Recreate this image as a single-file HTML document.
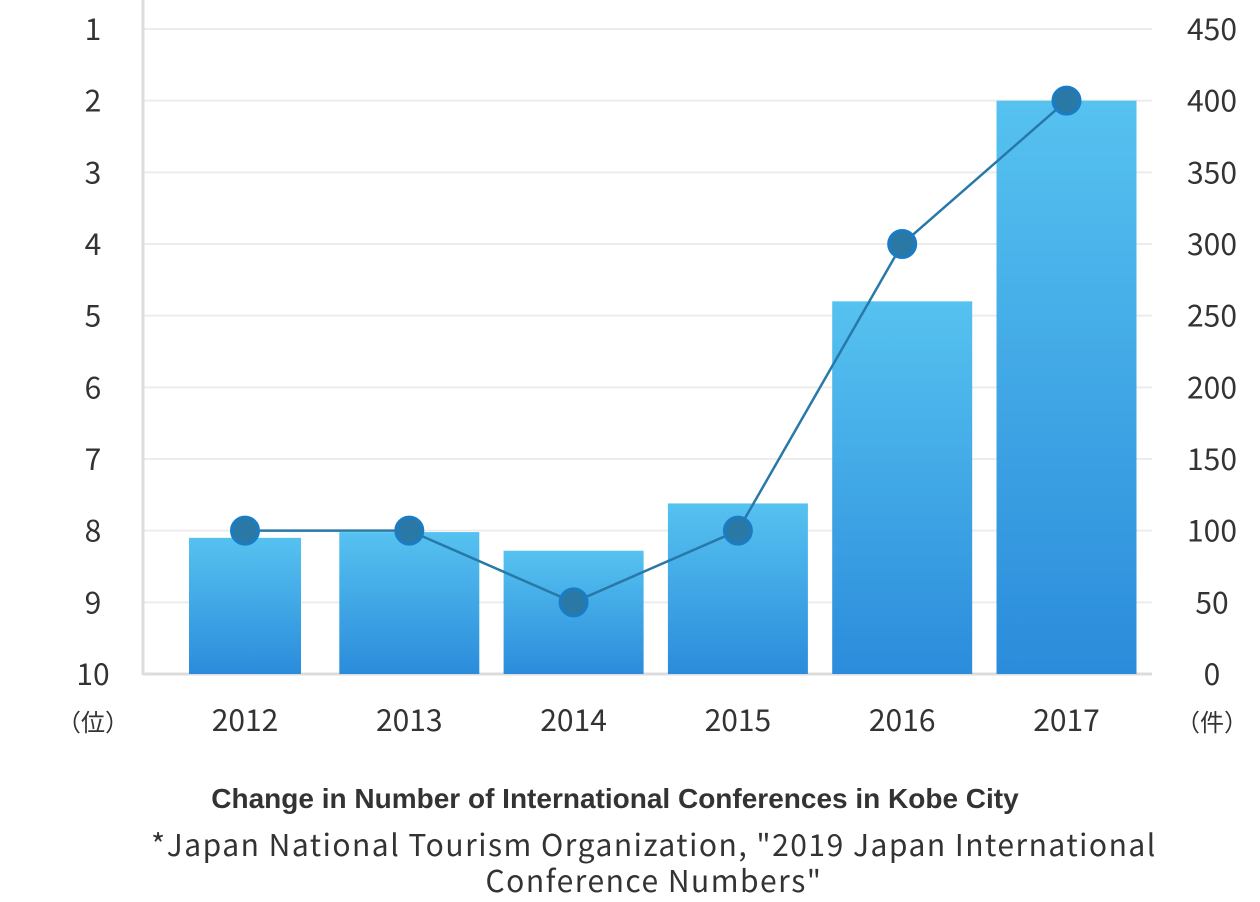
<!DOCTYPE html>
<html><head><meta charset="utf-8"><style>
body{margin:0;background:#fff;}
svg{display:block;}
text{font-family:"Noto Sans CJK JP","Liberation Sans",sans-serif;fill:#333;}
</style></head><body>
<svg id="chart" width="1260" height="902" viewBox="0 0 1260 902">
<defs><linearGradient id="bg" x1="0" y1="0" x2="0" y2="1"><stop offset="0" stop-color="#56c2f0"/><stop offset="1" stop-color="#2b8cdb"/></linearGradient></defs>
<g id="grid"></g>
<g id="bars"></g>
<g id="line"></g>
<g id="axes"></g>
<text x="615" y="808" text-anchor="middle" style="font-family:'Liberation Sans',sans-serif;font-weight:bold;font-size:28px;fill:#333">Change in Number of International Conferences in Kobe City</text>
<text x="654" y="856" text-anchor="middle" style="font-size:30px;letter-spacing:1.5px">*Japan National Tourism Organization, "2019 Japan International</text>
<text x="654" y="892" text-anchor="middle" style="font-size:30px;letter-spacing:1.5px">Conference Numbers"</text>
</svg>
<script>
const years = ["2012","2013","2014","2015","2016","2017"];
const counts = [95, 99, 86, 119, 260, 400];
const ranks = [8, 8, 9, 8, 4, 2];
const rankTicks = [1,2,3,4,5,6,7,8,9,10];
const countTicks = [0,50,100,150,200,250,300,350,400,450];
const NS="http://www.w3.org/2000/svg";
const X0=143,X1=1152,Y0=29,Y1=674;
function xc(i){return 245+i*164.3;}
function yRank(r){return Y0+(r-1)*(Y1-Y0)/9;}
function yCount(v){return Y1-v*(Y1-Y0)/450;}
function mk(p,tag,a,t){const e=document.createElementNS(NS,tag);for(const k in a)e.setAttribute(k,a[k]);if(t!==undefined)e.textContent=t;p.appendChild(e);return e;}
const g=document.getElementById('grid'),b=document.getElementById('bars'),l=document.getElementById('line'),ax=document.getElementById('axes');
rankTicks.forEach(r=>{
  const ln=mk(g,'line',{x1:X0,x2:X1,y1:yRank(r),y2:yRank(r),stroke:r===10?'#dcdcdc':'#ececec','stroke-width':r===10?3:2});
  
  
  const t=mk(ax,'text',{x:93,y:yRank(r)+11,'text-anchor':'middle','font-size':30},r);
  
  
});
const va=mk(ax,'line',{x1:X0,x2:X0,y1:0,y2:Y1+1,stroke:'#dcdcdc','stroke-width':3});


countTicks.forEach(v=>{
  const t=mk(ax,'text',{x:1212,y:yCount(v)+11,'text-anchor':'middle','font-size':30},v);
  
  
});
years.forEach((yr,i)=>{
  const w=i===0?112:140;
  const r=mk(b,'rect',{x:xc(i)-w/2,y:yCount(counts[i]),width:w,height:Y1-yCount(counts[i]),fill:'url(#bg)'});
  
  
  const t=mk(ax,'text',{x:xc(i),y:731,'text-anchor':'middle','font-size':30},yr);
  
  
});
const pts=ranks.map((r,i)=>xc(i)+','+yRank(r)).join(' ');
const pl=mk(l,'polyline',{points:pts,fill:'none',stroke:'#2878a8','stroke-width':2.5});


ranks.forEach((r,i)=>{
  const c=mk(l,'circle',{cx:xc(i),cy:yRank(r),r:13.5,fill:'#2a78a6',stroke:'#1b7cc6','stroke-width':3});
  
  
});
const u1=mk(ax,'text',{x:93,y:731,'text-anchor':'middle','font-size':24},'（位）');


const u2=mk(ax,'text',{x:1212,y:731,'text-anchor':'middle','font-size':24},'（件）');


</script>
</body></html>
